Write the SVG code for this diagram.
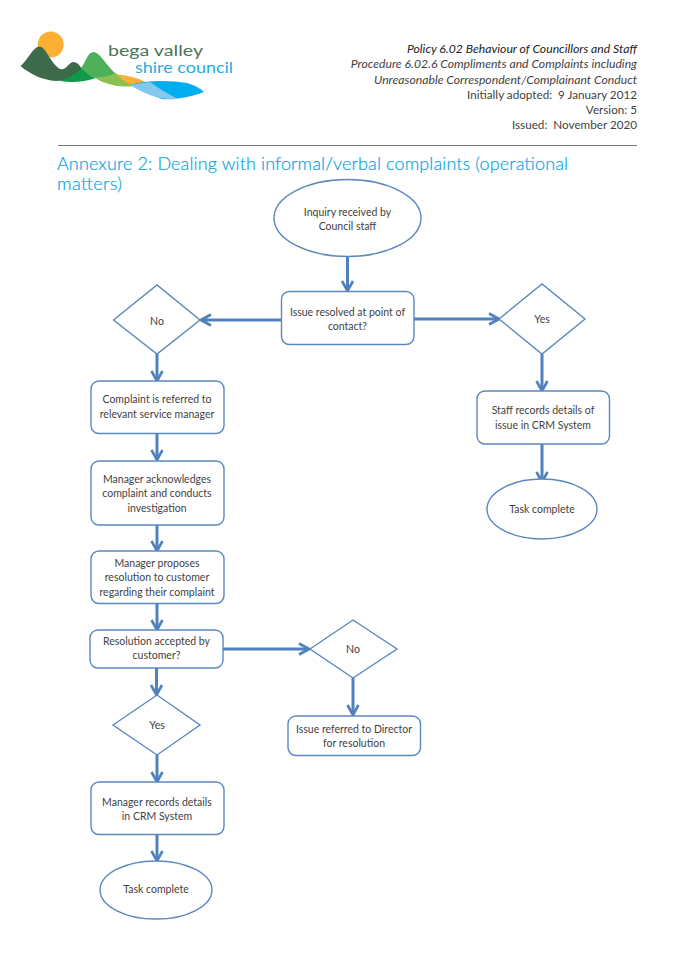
<svg xmlns="http://www.w3.org/2000/svg" width="675" height="957" viewBox="0 0 675 957">
<style>
text{font-family:Lato,"Liberation Sans",sans-serif;fill:#3f3f3f}
.n{fill:#fff;stroke:#5b88bf;stroke-width:1.4}
.l{font-size:10.5px;text-anchor:middle}
.h{font-size:11.7px;text-anchor:end}
.i{font-size:12.2px;font-style:italic}
.t{font-size:18px;font-weight:300;fill:#08a3e3;stroke:#08a3e3;stroke-width:.2}
.c{fill:none;stroke:#4f81bd;stroke-width:3;marker-end:url(#a)}
</style>
<defs>
<marker id="a" markerUnits="userSpaceOnUse" markerWidth="14" markerHeight="16" refX="12" refY="7" orient="auto">
<path d="M2 1.5 L12 7 L2 12.5" fill="none" stroke="#4f81bd" stroke-width="2.6"/>
</marker>
</defs>
<rect width="675" height="957" fill="#fff"/>
<g id="logo">
<circle cx="50.7" cy="44.5" r="13" fill="#fbb034"/>
<path d="M99 76 C112 73 130 74 148 83 C130 88 115 86 99 76Z" fill="#fbb034"/>
<path d="M20.5 66 C28 60 33 47 39 46.500 C46 46 50 63 60 69 C66 71 68 63 73 62 C78 62 80 66 82 69 C76 78 68 81 56 81 C42 80 30 74 20.500 66Z" fill="#3c6a4a"/>
<path d="M60 81 C68 78 76 74 82 68 C86 72 90 76 96 78 C84 82 72 83 60 81Z" fill="#0f9a4b"/>
<path d="M81 68 C85 64 87 53 93 52 C100 52 105 64 116 74 C110 77 104 78 96 78 C90 76 85 72 81 68Z" fill="#4eb15a"/>
<path d="M95 78 C103 77 110 76 116 73 C122 80 128 84 133 86 C118 88 105 84 95 78Z" fill="#8cc152"/>
<path d="M130 85 C146 80 170 80 187 83 C194 85 200 88 204 92 C188 98 172 100 162 99 C150 95 140 90 130 85Z" fill="#00aeef"/>
<path d="M130 85 C136 84 143 83 150 82 C158 88 168 94 178 99 C160 100 146 95 130 85Z" fill="#84c8ee"/>
<text x="108" y="56" style="font-size:15.500px;fill:#4d7358" textLength="95" lengthAdjust="spacingAndGlyphs">bega valley</text>
<text x="135" y="73" style="font-size:15.500px;fill:#29abe2" textLength="98" lengthAdjust="spacingAndGlyphs">shire council</text>
</g>
<g id="header">
<text class="h i" x="637" y="53" style="fill:#222">Policy 6.02 Behaviour of Councillors and Staff</text>
<text class="h i" x="637" y="68">Procedure 6.02.6 Compliments and Complaints including</text>
<text class="h i" x="637" y="83.500">Unreasonable Correspondent/Complainant Conduct</text>
<text class="h" x="637" y="98.500">Initially adopted:&#160; 9 January 2012</text>
<text class="h" x="637" y="114">Version: 5</text>
<text class="h" x="637" y="129">Issued:&#160; November 2020</text>
<path d="M58 145.500H637" stroke="#777" stroke-width="1" fill="none"/>
<text class="t" x="57" y="170" textLength="511">Annexure 2: Dealing with informal/verbal complaints (operational</text>
<text class="t" x="57" y="190" textLength="65">matters)</text>
</g>
<g id="connectors">
<path class="c" d="M347.500 257V291"/>
<path class="c" d="M281 320H201"/>
<path class="c" d="M414 319H499"/>
<path class="c" d="M542 354V391"/>
<path class="c" d="M542 444V482"/>
<path class="c" d="M157 354V381"/>
<path class="c" d="M157 433V460"/>
<path class="c" d="M157 525V551"/>
<path class="c" d="M157 603V630"/>
<path class="c" d="M223 649H309"/>
<path class="c" d="M353 678V715"/>
<path class="c" d="M156.500 668V695"/>
<path class="c" d="M157 755V782"/>
<path class="c" d="M157 834V861"/>
</g>
<g id="n1"><ellipse class="n" cx="347.500" cy="218" rx="73.500" ry="38.500"/><text class="l" x="347.500" y="216">Inquiry received by</text><text class="l" x="347.500" y="230">Council staff</text></g>
<g id="n2"><rect class="n" x="281.500" y="291.500" width="132.500" height="53" rx="8"/><text class="l" x="347.500" y="316">Issue resolved at point of</text><text class="l" x="347.500" y="330">contact?</text></g>
<g id="n3"><polygon class="n" points="113.500,320 157,285 200,320 157,354"/><text class="l" x="157" y="325">No</text></g>
<g id="n4"><polygon class="n" points="499,319 542,284 585,319 542,354"/><text class="l" x="542" y="323">Yes</text></g>
<g id="n5"><rect class="n" x="91" y="381" width="133" height="52.500" rx="8"/><text class="l" x="157" y="403">Complaint is referred to</text><text class="l" x="157" y="418">relevant service manager</text></g>
<g id="n6"><rect class="n" x="477" y="391" width="132.500" height="53" rx="8"/><text class="l" x="543" y="414">Staff records details of</text><text class="l" x="543" y="429">issue in CRM System</text></g>
<g id="n7"><ellipse class="n" cx="542" cy="509" rx="55" ry="30"/><text class="l" x="542" y="513">Task complete</text></g>
<g id="n8"><rect class="n" x="91" y="461" width="133" height="64" rx="8"/><text class="l" x="157" y="483">Manager acknowledges</text><text class="l" x="157" y="497">complaint and conducts</text><text class="l" x="157" y="512">investigation</text></g>
<g id="n9"><rect class="n" x="91" y="551" width="133" height="52.500" rx="8"/><text class="l" x="157" y="567">Manager proposes</text><text class="l" x="157" y="581">resolution to customer</text><text class="l" x="157" y="596">regarding their complaint</text></g>
<g id="n10"><rect class="n" x="90" y="630" width="133" height="38" rx="8"/><text class="l" x="156.500" y="645">Resolution accepted by</text><text class="l" x="156.500" y="659">customer?</text></g>
<g id="n11"><polygon class="n" points="310,649 353,620 397,649 353,678"/><text class="l" x="353" y="653">No</text></g>
<g id="n12"><polygon class="n" points="113,725 157,695 200,725 157,755"/><text class="l" x="157" y="729">Yes</text></g>
<g id="n13"><rect class="n" x="288" y="716" width="132.500" height="39.500" rx="8"/><text class="l" x="354" y="733">Issue referred to Director</text><text class="l" x="354" y="747">for resolution</text></g>
<g id="n14"><rect class="n" x="91" y="782" width="133" height="52.500" rx="8"/><text class="l" x="157" y="806">Manager records details</text><text class="l" x="157" y="820">in CRM System</text></g>
<g id="n15"><ellipse class="n" cx="156" cy="890" rx="56" ry="29"/><text class="l" x="156" y="893">Task complete</text></g>
</svg>
